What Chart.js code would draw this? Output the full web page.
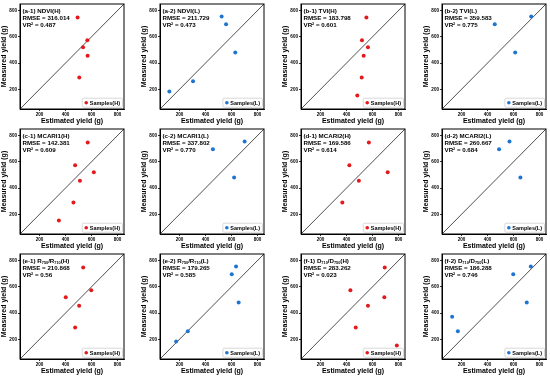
<!DOCTYPE html>
<html>
<head>
<meta charset="utf-8">
<script src="https://cdn.jsdelivr.net/npm/chart.js@4.4.1/dist/chart.umd.min.js"></script>
<style>
  html, body { margin: 0; padding: 0; background: #fff; overflow: hidden; }
  #wrap { position: relative; width: 550px; height: 376px; overflow: hidden; background: #fff; }
  .panel { position: absolute; }
</style>
</head>
<body>
<div id="wrap"></div>
<script>
// axis
const axisMin = 50;
const axisMax = 850;
const tickValues = [200, 400, 600, 800];

// measured yield of the samples (same samples in every panel)
const measuredH = [748, 573, 520, 456, 290, 153];
const measuredL = [754, 695, 481, 372, 262, 184];

// estimated yield per panel (null = outside the plotted range)
const estA1 = [493, 568, 535, 570, 506, null];
const estA2 = [524, 558, 629, null, 304, 122];
const estB1 = [553, 519, 565, 532, 517, 483];
const estB2 = [736, 456, 613, null, null, null];
const estC1 = [571, 474, 618, 511, 461, 349];
const estC2 = [701, 457, 620, null, null, null];
const estD1 = [572, 422, 717, 495, 368, null];
const estD2 = [569, 489, 653, null, null, null];
const estE1 = [536, 598, 402, 505, 474, null];
const estE2 = [635, 602, 655, null, 264, 174];
const estF1 = [694, 430, 691, 565, 471, 787];
const estF2 = [733, 598, 702, 128, 172, null];

const panelNames = ['(a-1) NDVI(H)', '(a-2) NDVI(L)', '(b-1) TVI(H)', '(b-2) TVI(L)',
  '(c-1) MCARI1(H)', '(c-2) MCARI1(L)', '(d-1) MCARI2(H)', '(d-2) MCARI2(L)',
  '(e-1) R_{750}/R_{710}(H)', '(e-2) R_{750}/R_{710}(L)', '(f-1) D_{710}/D_{750}(H)', '(f-2) D_{710}/D_{750}(L)'];
const rmseValues = ['316.014', '211.729', '183.798', '359.583', '142.381', '337.802',
  '169.586', '260.667', '210.868', '179.265', '283.262', '186.288'];
const vr2Values = ['0.487', '0.473', '0.601', '0.775', '0.609', '0.770',
  '0.614', '0.684', '0.56', '0.585', '0.023', '0.746'];
const estimatedByPanel = [estA1, estA2, estB1, estB2, estC1, estC2, estD1, estD2, estE1, estE2, estF1, estF2];

const FONT = '"Liberation Sans", Arial, sans-serif';
const colorH = '#e3191c';
const colorL = '#1f74d2';
const colLefts = [0, 140, 281, 422];
const rowTops = [0, 125, 250];

// text with _{subscript}
function drawRich(ctx, text, x, y, size) {
  text.split(/(_\{[^}]*\})/).forEach(p => {
    if (!p) return;
    let s = size, dy = 0, str = p;
    if (p.startsWith('_{')) { str = p.slice(2, -1); s = size * 0.62; dy = size * 0.3; }
    ctx.font = 'bold ' + s + 'px ' + FONT;
    ctx.fillText(str, x, y + dy);
    x += ctx.measureText(str).width;
  });
}

const panelDecor = {
  id: 'panelDecor',
  afterDatasetsDraw(chart, args, opts) {
    const ctx = chart.ctx, a = chart.chartArea;
    ctx.save();
    // frame
    ctx.strokeStyle = '#000';
    ctx.lineWidth = 1;
    ctx.strokeRect(a.left, a.top, a.right - a.left, a.bottom - a.top);
    // annotation
    ctx.fillStyle = '#000';
    ctx.textAlign = 'left';
    ctx.textBaseline = 'middle';
    opts.lines.forEach((t, i) => drawRich(ctx, t, a.left + 2.5, a.top + 7 + i * 7.3, 6.2));
    // legend inside lower right
    const ds = chart.data.datasets[0];
    ctx.font = 'bold 5.5px ' + FONT;
    const w = ctx.measureText(ds.label).width + 10, h = 9;
    const lx = a.right - 1.5 - w, ly = a.bottom - 1.8 - h;
    ctx.fillStyle = '#fff';
    ctx.strokeStyle = '#c8c8c8';
    ctx.lineWidth = 0.7;
    ctx.beginPath();
    ctx.roundRect(lx, ly, w, h, 1.2);
    ctx.fill();
    ctx.stroke();
    ctx.fillStyle = ds.backgroundColor;
    ctx.beginPath();
    ctx.arc(lx + 4, ly + h / 2, 1.8, 0, Math.PI * 2);
    ctx.fill();
    ctx.fillStyle = '#000';
    ctx.fillText(ds.label, lx + 7.5, ly + h / 2 + 0.3);
    ctx.restore();
  }
};

function axisOpts(title, isX) {
  return {
    type: 'linear',
    min: axisMin,
    max: axisMax,
    afterBuildTicks: s => { s.ticks = tickValues.map(v => ({ value: v })); },
    afterFit: s => { if (isX) s.height = 16; else s.width = 20; },
    grid: { drawOnChartArea: false, tickLength: 2, color: '#000', lineWidth: 0.8 },
    border: { color: '#000', width: 1 },
    ticks: { color: '#000', padding: 1, maxRotation: 0, autoSkip: false,
      font: { family: FONT, size: 4.6, weight: 'bold' } },
    title: { display: true, text: title, color: '#000', padding: 0,
      font: { family: FONT, size: 7, weight: 'bold' } }
  };
}

const wrap = document.getElementById('wrap');
panelNames.forEach((name, i) => {
  const isH = i % 2 === 0;
  const measured = isH ? measuredH : measuredL;
  const est = estimatedByPanel[i];
  const pts = [];
  est.forEach((e, k) => { if (e !== null) pts.push({ x: e, y: measured[k] }); });
  const color = isH ? colorH : colorL;

  const canvas = document.createElement('canvas');
  canvas.className = 'panel';
  canvas.width = 130;
  canvas.height = 125;
  canvas.style.left = colLefts[i % 4] + 'px';
  canvas.style.top = rowTops[Math.floor(i / 4)] + 'px';
  wrap.appendChild(canvas);

  new Chart(canvas, {
    type: 'scatter',
    data: {
      datasets: [{
        label: isH ? 'Samples(H)' : 'Samples(L)',
        data: pts,
        backgroundColor: color,
        borderColor: color,
        pointRadius: 2,
        pointBorderWidth: 0,
        order: 0
      }, {
        // 1:1 line
        type: 'line',
        label: '1:1',
        data: [{ x: axisMin, y: axisMin }, { x: axisMax, y: axisMax }],
        borderColor: '#222',
        borderWidth: 0.8,
        pointRadius: 0,
        order: 1
      }]
    },
    options: {
      responsive: false,
      animation: false,
      layout: { padding: { top: 4, right: 6, left: 0, bottom: 0 } },
      scales: {
        x: axisOpts('Estimated yield (g)', true),
        y: axisOpts('Measured yield (g)', false)
      },
      plugins: {
        legend: { display: false },
        tooltip: { enabled: false },
        panelDecor: { lines: [name, 'RMSE = ' + rmseValues[i], 'VR\u00b2 = ' + vr2Values[i]] }
      }
    },
    plugins: [panelDecor]
  });
});
</script>
</body>
</html>
